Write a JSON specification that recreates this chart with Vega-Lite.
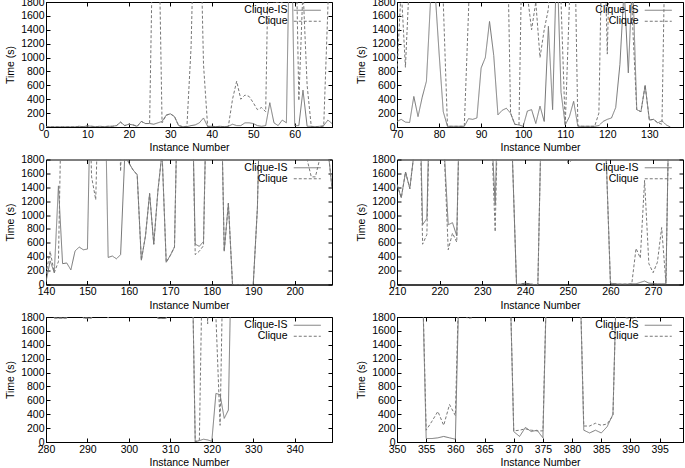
{
"$schema": "https://vega.github.io/schema/vega-lite/v6.json",
"padding": {"left": 5, "top": -4, "right": 0, "bottom": 0},
"background": "white",
"config": {
  "font": "Liberation Sans",
  "view": {"stroke": "#000", "strokeWidth": 1},
  "axis": {"labelFont": "Liberation Sans", "labelFontSize": 10.5, "labelColor": "#000", "titleFont": "Liberation Sans", "titleFontSize": 10.5, "titleFontWeight": "normal", "titleColor": "#000", "domainColor": "#000", "tickColor": "#000", "tickSize": -4, "grid": false, "labelFlush": false, "labelOverlap": false, "titlePadding": 5, "format": "d"},
  "axisX": {"labelPadding": 6, "titlePadding": 3},
  "axisY": {"labelPadding": 6}
},
"columns": 2,
"spacing": {"row": 32.5, "column": 65},
"bounds": "flush",
"resolve": {"scale": {"x": "independent", "y": "independent", "strokeDash": "independent"}, "legend": {"strokeDash": "independent"}},
"datasets": {
"p1": [
{"n":0,"Clique-IS":2,"Clique":2},{"n":1,"Clique-IS":2,"Clique":2},{"n":2,"Clique-IS":2,"Clique":2},{"n":3,"Clique-IS":2,"Clique":2},{"n":4,"Clique-IS":2,"Clique":2},{"n":5,"Clique-IS":2,"Clique":2},{"n":6,"Clique-IS":2,"Clique":2},{"n":7,"Clique-IS":2,"Clique":2},{"n":8,"Clique-IS":10,"Clique":10},{"n":9,"Clique-IS":5,"Clique":5},{"n":10,"Clique-IS":15,"Clique":15},{"n":11,"Clique-IS":10,"Clique":10},{"n":12,"Clique-IS":5,"Clique":5},{"n":13,"Clique-IS":10,"Clique":10},{"n":14,"Clique-IS":5,"Clique":5},{"n":15,"Clique-IS":10,"Clique":10},{"n":16,"Clique-IS":10,"Clique":10},{"n":17,"Clique-IS":20,"Clique":20},{"n":18,"Clique-IS":70,"Clique":70},{"n":19,"Clique-IS":20,"Clique":20},{"n":20,"Clique-IS":40,"Clique":40},{"n":21,"Clique-IS":30,"Clique":30},{"n":22,"Clique-IS":10,"Clique":10},{"n":23,"Clique-IS":80,"Clique":80},{"n":24,"Clique-IS":50,"Clique":50},{"n":25,"Clique-IS":50,"Clique":50},{"n":26,"Clique-IS":40,"Clique":3600},{"n":27,"Clique-IS":60,"Clique":3600},{"n":28,"Clique-IS":80,"Clique":60},{"n":29,"Clique-IS":170,"Clique":170},{"n":30,"Clique-IS":190,"Clique":190},{"n":31,"Clique-IS":150,"Clique":150},{"n":32,"Clique-IS":20,"Clique":20},{"n":33,"Clique-IS":5,"Clique":5},{"n":34,"Clique-IS":5,"Clique":10},{"n":35,"Clique-IS":20,"Clique":1150},{"n":36,"Clique-IS":30,"Clique":3600},{"n":37,"Clique-IS":60,"Clique":3600},{"n":38,"Clique-IS":130,"Clique":900},{"n":39,"Clique-IS":10,"Clique":5},{"n":40,"Clique-IS":10,"Clique":10},{"n":41,"Clique-IS":5,"Clique":5},{"n":42,"Clique-IS":10,"Clique":10},{"n":43,"Clique-IS":5,"Clique":5},{"n":44,"Clique-IS":10,"Clique":10},{"n":45,"Clique-IS":40,"Clique":400},{"n":46,"Clique-IS":20,"Clique":660},{"n":47,"Clique-IS":20,"Clique":400},{"n":48,"Clique-IS":60,"Clique":460},{"n":49,"Clique-IS":60,"Clique":440},{"n":50,"Clique-IS":50,"Clique":350},{"n":51,"Clique-IS":20,"Clique":250},{"n":52,"Clique-IS":10,"Clique":280},{"n":53,"Clique-IS":20,"Clique":220},{"n":54,"Clique-IS":350,"Clique":3600},{"n":55,"Clique-IS":60,"Clique":1790},{"n":56,"Clique-IS":20,"Clique":1800},{"n":57,"Clique-IS":100,"Clique":1790},{"n":58,"Clique-IS":60,"Clique":3600},{"n":59,"Clique-IS":3600,"Clique":3600},{"n":60,"Clique-IS":20,"Clique":3600},{"n":61,"Clique-IS":20,"Clique":380},{"n":62,"Clique-IS":530,"Clique":2000},{"n":63,"Clique-IS":10,"Clique":600},{"n":64,"Clique-IS":10,"Clique":5},{"n":65,"Clique-IS":5,"Clique":5},{"n":66,"Clique-IS":10,"Clique":5},{"n":67,"Clique-IS":20,"Clique":10},{"n":68,"Clique-IS":100,"Clique":1700},{"n":69,"Clique-IS":50,"Clique":3600}
],
"p2": [
{"n":70,"Clique-IS":80,"Clique":800},{"n":71,"Clique-IS":110,"Clique":2000},{"n":72,"Clique-IS":70,"Clique":860},{"n":73,"Clique-IS":65,"Clique":2200},{"n":74,"Clique-IS":440,"Clique":3600},{"n":75,"Clique-IS":150,"Clique":3600},{"n":76,"Clique-IS":430,"Clique":3600},{"n":77,"Clique-IS":660,"Clique":3600},{"n":78,"Clique-IS":1850,"Clique":3600},{"n":79,"Clique-IS":2000,"Clique":3600},{"n":80,"Clique-IS":1070,"Clique":3600},{"n":81,"Clique-IS":220,"Clique":1800},{"n":82,"Clique-IS":10,"Clique":10},{"n":83,"Clique-IS":10,"Clique":10},{"n":84,"Clique-IS":10,"Clique":10},{"n":85,"Clique-IS":10,"Clique":10},{"n":86,"Clique-IS":10,"Clique":10},{"n":87,"Clique-IS":120,"Clique":1650},{"n":88,"Clique-IS":110,"Clique":3600},{"n":89,"Clique-IS":130,"Clique":3600},{"n":90,"Clique-IS":850,"Clique":3600},{"n":91,"Clique-IS":1000,"Clique":3600},{"n":92,"Clique-IS":1520,"Clique":3600},{"n":93,"Clique-IS":1030,"Clique":3600},{"n":94,"Clique-IS":175,"Clique":3600},{"n":95,"Clique-IS":240,"Clique":3600},{"n":96,"Clique-IS":270,"Clique":3600},{"n":97,"Clique-IS":200,"Clique":200},{"n":98,"Clique-IS":40,"Clique":40},{"n":99,"Clique-IS":30,"Clique":30},{"n":100,"Clique-IS":10,"Clique":3600},{"n":101,"Clique-IS":230,"Clique":1900},{"n":102,"Clique-IS":250,"Clique":1400},{"n":103,"Clique-IS":50,"Clique":1800},{"n":104,"Clique-IS":300,"Clique":1000},{"n":105,"Clique-IS":80,"Clique":1400},{"n":106,"Clique-IS":1450,"Clique":1700},{"n":107,"Clique-IS":250,"Clique":3600},{"n":108,"Clique-IS":2500,"Clique":3600},{"n":109,"Clique-IS":500,"Clique":1800},{"n":110,"Clique-IS":30,"Clique":20},{"n":111,"Clique-IS":150,"Clique":1800},{"n":112,"Clique-IS":370,"Clique":3600},{"n":113,"Clique-IS":10,"Clique":20},{"n":114,"Clique-IS":10,"Clique":10},{"n":115,"Clique-IS":10,"Clique":10},{"n":116,"Clique-IS":10,"Clique":10},{"n":117,"Clique-IS":10,"Clique":10},{"n":118,"Clique-IS":20,"Clique":200},{"n":119,"Clique-IS":80,"Clique":3600},{"n":120,"Clique-IS":110,"Clique":1050},{"n":121,"Clique-IS":130,"Clique":3600},{"n":122,"Clique-IS":280,"Clique":3600},{"n":123,"Clique-IS":900,"Clique":3600},{"n":124,"Clique-IS":2000,"Clique":3600},{"n":125,"Clique-IS":780,"Clique":3600},{"n":126,"Clique-IS":2200,"Clique":1500},{"n":127,"Clique-IS":250,"Clique":250},{"n":128,"Clique-IS":220,"Clique":220},{"n":129,"Clique-IS":600,"Clique":600},{"n":130,"Clique-IS":100,"Clique":100},{"n":131,"Clique-IS":110,"Clique":110},{"n":132,"Clique-IS":60,"Clique":60},{"n":133,"Clique-IS":90,"Clique":40},{"n":134,"Clique-IS":30,"Clique":3600},{"n":135,"Clique-IS":0,"Clique":3600}
],
"p3": [
{"n":140,"Clique-IS":40,"Clique":150},{"n":141,"Clique-IS":340,"Clique":480},{"n":142,"Clique-IS":170,"Clique":170},{"n":143,"Clique-IS":1420,"Clique":330},{"n":144,"Clique-IS":300,"Clique":3600},{"n":145,"Clique-IS":310,"Clique":3600},{"n":146,"Clique-IS":210,"Clique":3600},{"n":147,"Clique-IS":480,"Clique":3600},{"n":148,"Clique-IS":540,"Clique":3600},{"n":149,"Clique-IS":500,"Clique":3600},{"n":150,"Clique-IS":510,"Clique":3600},{"n":151,"Clique-IS":3600,"Clique":1550},{"n":152,"Clique-IS":3600,"Clique":1220},{"n":153,"Clique-IS":3600,"Clique":3600},{"n":154,"Clique-IS":3600,"Clique":3600},{"n":155,"Clique-IS":390,"Clique":3600},{"n":156,"Clique-IS":410,"Clique":3600},{"n":157,"Clique-IS":370,"Clique":3600},{"n":158,"Clique-IS":430,"Clique":1630},{"n":159,"Clique-IS":1850,"Clique":3600},{"n":160,"Clique-IS":1750,"Clique":1750},{"n":161,"Clique-IS":1650,"Clique":1650},{"n":162,"Clique-IS":1580,"Clique":1580},{"n":163,"Clique-IS":350,"Clique":350},{"n":164,"Clique-IS":700,"Clique":700},{"n":165,"Clique-IS":1310,"Clique":1310},{"n":166,"Clique-IS":580,"Clique":580},{"n":167,"Clique-IS":1350,"Clique":1350},{"n":168,"Clique-IS":1900,"Clique":1900},{"n":169,"Clique-IS":320,"Clique":320},{"n":170,"Clique-IS":420,"Clique":420},{"n":171,"Clique-IS":540,"Clique":540},{"n":172,"Clique-IS":3600,"Clique":3600},{"n":173,"Clique-IS":3600,"Clique":3600},{"n":174,"Clique-IS":3600,"Clique":3600},{"n":175,"Clique-IS":3600,"Clique":3600},{"n":176,"Clique-IS":580,"Clique":430},{"n":177,"Clique-IS":550,"Clique":480},{"n":178,"Clique-IS":620,"Clique":560},{"n":179,"Clique-IS":3600,"Clique":3600},{"n":180,"Clique-IS":3600,"Clique":3600},{"n":181,"Clique-IS":3600,"Clique":3600},{"n":182,"Clique-IS":3600,"Clique":3600},{"n":183,"Clique-IS":480,"Clique":480},{"n":184,"Clique-IS":1170,"Clique":1170},{"n":185,"Clique-IS":0,"Clique":0},{"n":186,"Clique-IS":0,"Clique":0},{"n":187,"Clique-IS":0,"Clique":0},{"n":188,"Clique-IS":0,"Clique":0},{"n":189,"Clique-IS":0,"Clique":0},{"n":190,"Clique-IS":0,"Clique":0},{"n":191,"Clique-IS":1100,"Clique":1100},{"n":192,"Clique-IS":3600,"Clique":3600},{"n":193,"Clique-IS":3600,"Clique":3600},{"n":194,"Clique-IS":3600,"Clique":3600},{"n":195,"Clique-IS":3600,"Clique":3600},{"n":196,"Clique-IS":3600,"Clique":3600},{"n":197,"Clique-IS":3600,"Clique":3600},{"n":198,"Clique-IS":3600,"Clique":3600},{"n":199,"Clique-IS":3600,"Clique":3600},{"n":200,"Clique-IS":3600,"Clique":3600},{"n":201,"Clique-IS":3600,"Clique":3600},{"n":202,"Clique-IS":3600,"Clique":3600},{"n":203,"Clique-IS":3600,"Clique":1800},{"n":204,"Clique-IS":3600,"Clique":1550},{"n":205,"Clique-IS":3600,"Clique":1550},{"n":206,"Clique-IS":3600,"Clique":1800},{"n":207,"Clique-IS":3600,"Clique":3600},{"n":208,"Clique-IS":1970,"Clique":1970},{"n":209,"Clique-IS":1390,"Clique":1390}
],
"p4": [
{"n":210,"Clique-IS":1440,"Clique":1440},{"n":211,"Clique-IS":1250,"Clique":1250},{"n":212,"Clique-IS":1620,"Clique":1620},{"n":213,"Clique-IS":1380,"Clique":1380},{"n":214,"Clique-IS":1900,"Clique":1900},{"n":215,"Clique-IS":3600,"Clique":3600},{"n":216,"Clique-IS":860,"Clique":580},{"n":217,"Clique-IS":950,"Clique":720},{"n":218,"Clique-IS":3600,"Clique":3600},{"n":219,"Clique-IS":3600,"Clique":3600},{"n":220,"Clique-IS":3600,"Clique":3600},{"n":221,"Clique-IS":2000,"Clique":2000},{"n":222,"Clique-IS":860,"Clique":500},{"n":223,"Clique-IS":890,"Clique":740},{"n":224,"Clique-IS":700,"Clique":610},{"n":225,"Clique-IS":3600,"Clique":3600},{"n":226,"Clique-IS":3600,"Clique":3600},{"n":227,"Clique-IS":3600,"Clique":3600},{"n":228,"Clique-IS":3600,"Clique":3600},{"n":229,"Clique-IS":3600,"Clique":3600},{"n":230,"Clique-IS":3600,"Clique":3600},{"n":231,"Clique-IS":3600,"Clique":3600},{"n":232,"Clique-IS":2400,"Clique":2400},{"n":233,"Clique-IS":1150,"Clique":760},{"n":234,"Clique-IS":3600,"Clique":3600},{"n":235,"Clique-IS":3600,"Clique":3600},{"n":236,"Clique-IS":3600,"Clique":3600},{"n":237,"Clique-IS":1900,"Clique":1900},{"n":238,"Clique-IS":0,"Clique":0},{"n":239,"Clique-IS":5,"Clique":5},{"n":240,"Clique-IS":20,"Clique":20},{"n":241,"Clique-IS":10,"Clique":10},{"n":242,"Clique-IS":0,"Clique":0},{"n":243,"Clique-IS":0,"Clique":0},{"n":244,"Clique-IS":3000,"Clique":3000},{"n":245,"Clique-IS":3600,"Clique":3600},{"n":246,"Clique-IS":3600,"Clique":3600},{"n":247,"Clique-IS":3600,"Clique":3600},{"n":248,"Clique-IS":3600,"Clique":3600},{"n":249,"Clique-IS":3600,"Clique":3600},{"n":250,"Clique-IS":3600,"Clique":1750},{"n":251,"Clique-IS":3600,"Clique":1790},{"n":252,"Clique-IS":3600,"Clique":1800},{"n":253,"Clique-IS":3600,"Clique":3600},{"n":254,"Clique-IS":3600,"Clique":3600},{"n":255,"Clique-IS":3600,"Clique":3600},{"n":256,"Clique-IS":3600,"Clique":3600},{"n":257,"Clique-IS":3600,"Clique":3600},{"n":258,"Clique-IS":3600,"Clique":3600},{"n":259,"Clique-IS":1850,"Clique":1850},{"n":260,"Clique-IS":20,"Clique":20},{"n":261,"Clique-IS":10,"Clique":10},{"n":262,"Clique-IS":5,"Clique":5},{"n":263,"Clique-IS":5,"Clique":5},{"n":264,"Clique-IS":5,"Clique":5},{"n":265,"Clique-IS":10,"Clique":10},{"n":266,"Clique-IS":10,"Clique":520},{"n":267,"Clique-IS":30,"Clique":380},{"n":268,"Clique-IS":50,"Clique":1500},{"n":269,"Clique-IS":20,"Clique":300},{"n":270,"Clique-IS":15,"Clique":170},{"n":271,"Clique-IS":10,"Clique":320},{"n":272,"Clique-IS":10,"Clique":820},{"n":273,"Clique-IS":10,"Clique":20},{"n":274,"Clique-IS":3600,"Clique":3600},{"n":275,"Clique-IS":3600,"Clique":3600},{"n":276,"Clique-IS":3600,"Clique":3600},{"n":277,"Clique-IS":3600,"Clique":3600}
],
"p5": [
{"n":280,"Clique-IS":3600,"Clique":3600},{"n":281,"Clique-IS":3600,"Clique":3600},{"n":282,"Clique-IS":1785,"Clique":1785},{"n":283,"Clique-IS":1785,"Clique":1785},{"n":284,"Clique-IS":1785,"Clique":1785},{"n":285,"Clique-IS":1785,"Clique":1785},{"n":286,"Clique-IS":3600,"Clique":3600},{"n":287,"Clique-IS":3600,"Clique":3600},{"n":288,"Clique-IS":3600,"Clique":3600},{"n":289,"Clique-IS":1785,"Clique":1785},{"n":290,"Clique-IS":1785,"Clique":1785},{"n":291,"Clique-IS":1785,"Clique":1785},{"n":292,"Clique-IS":3600,"Clique":3600},{"n":293,"Clique-IS":3600,"Clique":3600},{"n":294,"Clique-IS":3600,"Clique":3600},{"n":295,"Clique-IS":1785,"Clique":1785},{"n":296,"Clique-IS":3600,"Clique":3600},{"n":297,"Clique-IS":3600,"Clique":3600},{"n":298,"Clique-IS":3600,"Clique":3600},{"n":299,"Clique-IS":3600,"Clique":3600},{"n":300,"Clique-IS":3600,"Clique":3600},{"n":301,"Clique-IS":3600,"Clique":3600},{"n":302,"Clique-IS":3600,"Clique":3600},{"n":303,"Clique-IS":3600,"Clique":3600},{"n":304,"Clique-IS":3600,"Clique":3600},{"n":305,"Clique-IS":3600,"Clique":3600},{"n":306,"Clique-IS":3600,"Clique":3600},{"n":307,"Clique-IS":1780,"Clique":1780},{"n":308,"Clique-IS":1780,"Clique":1780},{"n":309,"Clique-IS":1780,"Clique":1780},{"n":310,"Clique-IS":3600,"Clique":3600},{"n":311,"Clique-IS":3600,"Clique":3600},{"n":312,"Clique-IS":3600,"Clique":3600},{"n":313,"Clique-IS":3600,"Clique":3600},{"n":314,"Clique-IS":3600,"Clique":3600},{"n":315,"Clique-IS":3600,"Clique":3600},{"n":316,"Clique-IS":5,"Clique":5},{"n":317,"Clique-IS":20,"Clique":30},{"n":318,"Clique-IS":40,"Clique":3600},{"n":319,"Clique-IS":30,"Clique":1700},{"n":320,"Clique-IS":10,"Clique":3600},{"n":321,"Clique-IS":700,"Clique":1800},{"n":322,"Clique-IS":680,"Clique":240},{"n":323,"Clique-IS":340,"Clique":3600},{"n":324,"Clique-IS":460,"Clique":3600},{"n":325,"Clique-IS":3600,"Clique":3600},{"n":330,"Clique-IS":3600,"Clique":3600},{"n":340,"Clique-IS":3600,"Clique":3600},{"n":349,"Clique-IS":3600,"Clique":3600}
],
"p6": [
{"n":350,"Clique-IS":3600,"Clique":3600},{"n":354,"Clique-IS":3600,"Clique":3600},{"n":355,"Clique-IS":50,"Clique":170},{"n":356,"Clique-IS":50,"Clique":300},{"n":357,"Clique-IS":60,"Clique":440},{"n":358,"Clique-IS":80,"Clique":240},{"n":359,"Clique-IS":60,"Clique":540},{"n":360,"Clique-IS":40,"Clique":380},{"n":361,"Clique-IS":3600,"Clique":3600},{"n":362,"Clique-IS":3600,"Clique":1780},{"n":363,"Clique-IS":3600,"Clique":1790},{"n":364,"Clique-IS":3600,"Clique":3600},{"n":369,"Clique-IS":3600,"Clique":3600},{"n":370,"Clique-IS":150,"Clique":160},{"n":371,"Clique-IS":80,"Clique":170},{"n":372,"Clique-IS":210,"Clique":190},{"n":373,"Clique-IS":150,"Clique":170},{"n":374,"Clique-IS":170,"Clique":160},{"n":375,"Clique-IS":60,"Clique":160},{"n":376,"Clique-IS":3600,"Clique":3600},{"n":381,"Clique-IS":3600,"Clique":3600},{"n":382,"Clique-IS":170,"Clique":230},{"n":383,"Clique-IS":130,"Clique":230},{"n":384,"Clique-IS":170,"Clique":270},{"n":385,"Clique-IS":130,"Clique":240},{"n":386,"Clique-IS":220,"Clique":260},{"n":387,"Clique-IS":400,"Clique":380},{"n":388,"Clique-IS":3600,"Clique":3600},{"n":389,"Clique-IS":3600,"Clique":1790},{"n":390,"Clique-IS":3600,"Clique":1780},{"n":391,"Clique-IS":3600,"Clique":1790},{"n":392,"Clique-IS":3600,"Clique":3600},{"n":399,"Clique-IS":3600,"Clique":3600}
]
},
"concat": [
{"width": 286, "height": 125, "data": {"name": "p1"}, "transform": [{"fold": ["Clique-IS", "Clique"], "as": ["s", "t"]}],
 "layer": [
  {"mark": {"type": "line", "clip": true, "strokeWidth": 1, "color": "#777"},
   "encoding": {
    "x": {"field": "n", "type": "quantitative", "scale": {"domain": [0, 69], "nice": false, "zero": false}, "axis": {"values": [0,10,20,30,40,50,60], "title": "Instance Number"}},
    "y": {"field": "t", "type": "quantitative", "scale": {"domain": [0, 1800], "nice": false}, "axis": {"values": [0,200,400,600,800,1000,1200,1400,1600,1800], "title": "Time (s)"}},
    "strokeDash": {"field": "s", "type": "nominal", "scale": {"domain": ["Clique-IS", "Clique"], "range": [[1,0],[3,2]]}, "legend": {"title": null, "orient": "none", "legendX": 256, "legendY": 3, "labelAlign": "right", "labelOffset": -25, "symbolType": "M-3,0H3", "symbolSize": 81, "symbolStrokeWidth": 1, "symbolStrokeColor": "#777", "labelFontSize": 10.5, "labelColor": "#000", "rowPadding": 0, "padding": 0}}
   }},
  {"mark": {"type": "line", "strokeOpacity": 0, "clip": true},
   "encoding": {
    "x": {"field": "n", "type": "quantitative", "axis": {"orient": "top", "values": [0,10,20,30,40,50,60], "labels": false, "title": null, "domain": false}},
    "y": {"field": "t", "type": "quantitative", "axis": {"orient": "right", "values": [0,200,400,600,800,1000,1200,1400,1600,1800], "labels": false, "title": null, "domain": false}}
   }}
 ],
 "resolve": {"axis": {"x": "independent", "y": "independent"}}
},
{"width": 286, "height": 125, "data": {"name": "p2"}, "transform": [{"fold": ["Clique-IS", "Clique"], "as": ["s", "t"]}],
 "layer": [
  {"mark": {"type": "line", "clip": true, "strokeWidth": 1, "color": "#777"},
   "encoding": {
    "x": {"field": "n", "type": "quantitative", "scale": {"domain": [70, 138], "nice": false, "zero": false}, "axis": {"values": [70,80,90,100,110,120,130], "title": "Instance Number"}},
    "y": {"field": "t", "type": "quantitative", "scale": {"domain": [0, 1800], "nice": false}, "axis": {"values": [0,200,400,600,800,1000,1200,1400,1600,1800], "title": "Time (s)"}},
    "strokeDash": {"field": "s", "type": "nominal", "scale": {"domain": ["Clique-IS", "Clique"], "range": [[1,0],[3,2]]}, "legend": {"title": null, "orient": "none", "legendX": 256, "legendY": 3, "labelAlign": "right", "labelOffset": -25, "symbolType": "M-3,0H3", "symbolSize": 81, "symbolStrokeWidth": 1, "symbolStrokeColor": "#777", "labelFontSize": 10.5, "labelColor": "#000", "rowPadding": 0, "padding": 0}}
   }},
  {"mark": {"type": "line", "strokeOpacity": 0, "clip": true},
   "encoding": {
    "x": {"field": "n", "type": "quantitative", "axis": {"orient": "top", "values": [70,80,90,100,110,120,130], "labels": false, "title": null, "domain": false}},
    "y": {"field": "t", "type": "quantitative", "axis": {"orient": "right", "values": [0,200,400,600,800,1000,1200,1400,1600,1800], "labels": false, "title": null, "domain": false}}
   }}
 ],
 "resolve": {"axis": {"x": "independent", "y": "independent"}}
},
{"width": 286, "height": 125, "data": {"name": "p3"}, "transform": [{"fold": ["Clique-IS", "Clique"], "as": ["s", "t"]}],
 "layer": [
  {"mark": {"type": "line", "clip": true, "strokeWidth": 1, "color": "#777"},
   "encoding": {
    "x": {"field": "n", "type": "quantitative", "scale": {"domain": [140, 209], "nice": false, "zero": false}, "axis": {"values": [140,150,160,170,180,190,200], "title": "Instance Number"}},
    "y": {"field": "t", "type": "quantitative", "scale": {"domain": [0, 1800], "nice": false}, "axis": {"values": [0,200,400,600,800,1000,1200,1400,1600,1800], "title": "Time (s)"}},
    "strokeDash": {"field": "s", "type": "nominal", "scale": {"domain": ["Clique-IS", "Clique"], "range": [[1,0],[3,2]]}, "legend": {"title": null, "orient": "none", "legendX": 256, "legendY": 3, "labelAlign": "right", "labelOffset": -25, "symbolType": "M-3,0H3", "symbolSize": 81, "symbolStrokeWidth": 1, "symbolStrokeColor": "#777", "labelFontSize": 10.5, "labelColor": "#000", "rowPadding": 0, "padding": 0}}
   }},
  {"mark": {"type": "line", "strokeOpacity": 0, "clip": true},
   "encoding": {
    "x": {"field": "n", "type": "quantitative", "axis": {"orient": "top", "values": [140,150,160,170,180,190,200], "labels": false, "title": null, "domain": false}},
    "y": {"field": "t", "type": "quantitative", "axis": {"orient": "right", "values": [0,200,400,600,800,1000,1200,1400,1600,1800], "labels": false, "title": null, "domain": false}}
   }}
 ],
 "resolve": {"axis": {"x": "independent", "y": "independent"}}
},
{"width": 286, "height": 125, "data": {"name": "p4"}, "transform": [{"fold": ["Clique-IS", "Clique"], "as": ["s", "t"]}],
 "layer": [
  {"mark": {"type": "line", "clip": true, "strokeWidth": 1, "color": "#777"},
   "encoding": {
    "x": {"field": "n", "type": "quantitative", "scale": {"domain": [210, 277], "nice": false, "zero": false}, "axis": {"values": [210,220,230,240,250,260,270], "title": "Instance Number"}},
    "y": {"field": "t", "type": "quantitative", "scale": {"domain": [0, 1800], "nice": false}, "axis": {"values": [0,200,400,600,800,1000,1200,1400,1600,1800], "title": "Time (s)"}},
    "strokeDash": {"field": "s", "type": "nominal", "scale": {"domain": ["Clique-IS", "Clique"], "range": [[1,0],[3,2]]}, "legend": {"title": null, "orient": "none", "legendX": 256, "legendY": 3, "labelAlign": "right", "labelOffset": -25, "symbolType": "M-3,0H3", "symbolSize": 81, "symbolStrokeWidth": 1, "symbolStrokeColor": "#777", "labelFontSize": 10.5, "labelColor": "#000", "rowPadding": 0, "padding": 0}}
   }},
  {"mark": {"type": "line", "strokeOpacity": 0, "clip": true},
   "encoding": {
    "x": {"field": "n", "type": "quantitative", "axis": {"orient": "top", "values": [210,220,230,240,250,260,270], "labels": false, "title": null, "domain": false}},
    "y": {"field": "t", "type": "quantitative", "axis": {"orient": "right", "values": [0,200,400,600,800,1000,1200,1400,1600,1800], "labels": false, "title": null, "domain": false}}
   }}
 ],
 "resolve": {"axis": {"x": "independent", "y": "independent"}}
},
{"width": 286, "height": 125, "data": {"name": "p5"}, "transform": [{"fold": ["Clique-IS", "Clique"], "as": ["s", "t"]}],
 "layer": [
  {"mark": {"type": "line", "clip": true, "strokeWidth": 1, "color": "#777"},
   "encoding": {
    "x": {"field": "n", "type": "quantitative", "scale": {"domain": [280, 349], "nice": false, "zero": false}, "axis": {"values": [280,290,300,310,320,330,340], "title": "Instance Number"}},
    "y": {"field": "t", "type": "quantitative", "scale": {"domain": [0, 1800], "nice": false}, "axis": {"values": [0,200,400,600,800,1000,1200,1400,1600,1800], "title": "Time (s)"}},
    "strokeDash": {"field": "s", "type": "nominal", "scale": {"domain": ["Clique-IS", "Clique"], "range": [[1,0],[3,2]]}, "legend": {"title": null, "orient": "none", "legendX": 256, "legendY": 3, "labelAlign": "right", "labelOffset": -25, "symbolType": "M-3,0H3", "symbolSize": 81, "symbolStrokeWidth": 1, "symbolStrokeColor": "#777", "labelFontSize": 10.5, "labelColor": "#000", "rowPadding": 0, "padding": 0}}
   }},
  {"mark": {"type": "line", "strokeOpacity": 0, "clip": true},
   "encoding": {
    "x": {"field": "n", "type": "quantitative", "axis": {"orient": "top", "values": [280,290,300,310,320,330,340], "labels": false, "title": null, "domain": false}},
    "y": {"field": "t", "type": "quantitative", "axis": {"orient": "right", "values": [0,200,400,600,800,1000,1200,1400,1600,1800], "labels": false, "title": null, "domain": false}}
   }}
 ],
 "resolve": {"axis": {"x": "independent", "y": "independent"}}
},
{"width": 286, "height": 125, "data": {"name": "p6"}, "transform": [{"fold": ["Clique-IS", "Clique"], "as": ["s", "t"]}],
 "layer": [
  {"mark": {"type": "line", "clip": true, "strokeWidth": 1, "color": "#777"},
   "encoding": {
    "x": {"field": "n", "type": "quantitative", "scale": {"domain": [350, 399], "nice": false, "zero": false}, "axis": {"values": [350,355,360,365,370,375,380,385,390,395], "title": "Instance Number"}},
    "y": {"field": "t", "type": "quantitative", "scale": {"domain": [0, 1800], "nice": false}, "axis": {"values": [0,200,400,600,800,1000,1200,1400,1600,1800], "title": "Time (s)"}},
    "strokeDash": {"field": "s", "type": "nominal", "scale": {"domain": ["Clique-IS", "Clique"], "range": [[1,0],[3,2]]}, "legend": {"title": null, "orient": "none", "legendX": 256, "legendY": 3, "labelAlign": "right", "labelOffset": -25, "symbolType": "M-3,0H3", "symbolSize": 81, "symbolStrokeWidth": 1, "symbolStrokeColor": "#777", "labelFontSize": 10.5, "labelColor": "#000", "rowPadding": 0, "padding": 0}}
   }},
  {"mark": {"type": "line", "strokeOpacity": 0, "clip": true},
   "encoding": {
    "x": {"field": "n", "type": "quantitative", "axis": {"orient": "top", "values": [350,355,360,365,370,375,380,385,390,395], "labels": false, "title": null, "domain": false}},
    "y": {"field": "t", "type": "quantitative", "axis": {"orient": "right", "values": [0,200,400,600,800,1000,1200,1400,1600,1800], "labels": false, "title": null, "domain": false}}
   }}
 ],
 "resolve": {"axis": {"x": "independent", "y": "independent"}}
}
]
}
